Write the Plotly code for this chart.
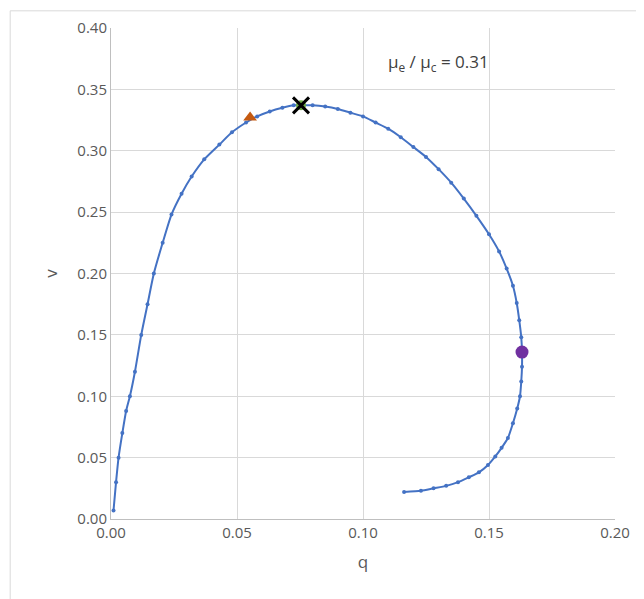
import plotly.graph_objects as go

q = [0.001,0.002,0.003,0.0045,0.006,0.0075,0.0095,0.012,0.0145,0.017,0.0205,0.024,0.028,0.032,0.037,0.043,0.048,0.0536,0.058,0.063,0.068,0.0725,0.0754,0.080,0.085,0.090,0.095,0.100,0.105,0.110,0.115,0.120,0.125,0.130,0.135,0.140,0.145,0.150,0.154,0.157,0.1595,0.161,0.162,0.1628,0.1631,0.1631,0.1628,0.1623,0.1612,0.1595,0.1575,0.155,0.1525,0.1496,0.146,0.142,0.1377,0.133,0.128,0.123,0.1163]
v = [0.007,0.030,0.050,0.070,0.088,0.100,0.120,0.150,0.175,0.200,0.225,0.248,0.265,0.279,0.293,0.305,0.315,0.323,0.328,0.332,0.335,0.337,0.337,0.337,0.336,0.334,0.331,0.328,0.323,0.318,0.311,0.303,0.295,0.285,0.274,0.261,0.247,0.232,0.218,0.204,0.190,0.176,0.162,0.148,0.136,0.124,0.112,0.100,0.090,0.078,0.066,0.058,0.051,0.044,0.038,0.034,0.030,0.027,0.025,0.023,0.022]

tri_q, tri_v = [0.0552], [0.327]
peak_q, peak_v = [0.0754], [0.337]
circ_q, circ_v = [0.1631], [0.136]

fig = go.Figure()
fig.add_trace(go.Scatter(x=q, y=v, mode="lines+markers", line=dict(color="#4472C4", width=2, shape="spline", smoothing=0.6),
                         marker=dict(color="#4472C4", size=4)))
fig.add_trace(go.Scatter(x=tri_q, y=tri_v, mode="markers", marker=dict(symbol="triangle-up", color="#C55A11", size=12)))
fig.add_trace(go.Scatter(x=peak_q, y=peak_v, mode="markers", marker=dict(symbol="circle", color="#70AD47", size=10)))
fig.add_trace(go.Scatter(x=peak_q, y=peak_v, mode="markers", marker=dict(symbol="x-thin", size=16, line=dict(color="black", width=3))))
fig.add_trace(go.Scatter(x=circ_q, y=circ_v, mode="markers", marker=dict(symbol="circle", color="#7030A0", size=13)))

fig.add_annotation(x=0.13, y=0.372, text="μ<sub>e</sub> / μ<sub>c</sub> = 0.31", showarrow=False,
                   font=dict(size=17, color="#404040"))

ax = dict(showgrid=True, gridcolor="#D9D9D9", zeroline=False, showline=True, linecolor="#BFBFBF",
          tickfont=dict(size=15, color="#595959"), ticks="", automargin=False)
fig.update_xaxes(ax, range=[0, 0.2], dtick=0.05, tickformat=".2f",
                 title=dict(text="q", font=dict(size=17, color="#595959")))
fig.update_yaxes(ax, range=[0, 0.4], dtick=0.05, tickformat=".2f",
                 title=dict(text="v", font=dict(size=17, color="#595959")))
fig.update_layout(width=644, height=599, showlegend=False, plot_bgcolor="white", paper_bgcolor="white",
                  margin=dict(l=103, r=37, t=20, b=88), font=dict(family="Open Sans"),
                  shapes=[dict(type="rect", xref="paper", yref="paper", x0=-0.2, x1=1.067, y0=-0.175, y1=1.035,
                               line=dict(color="#D9D9D9", width=1))])
fig.write_html("out.html")
